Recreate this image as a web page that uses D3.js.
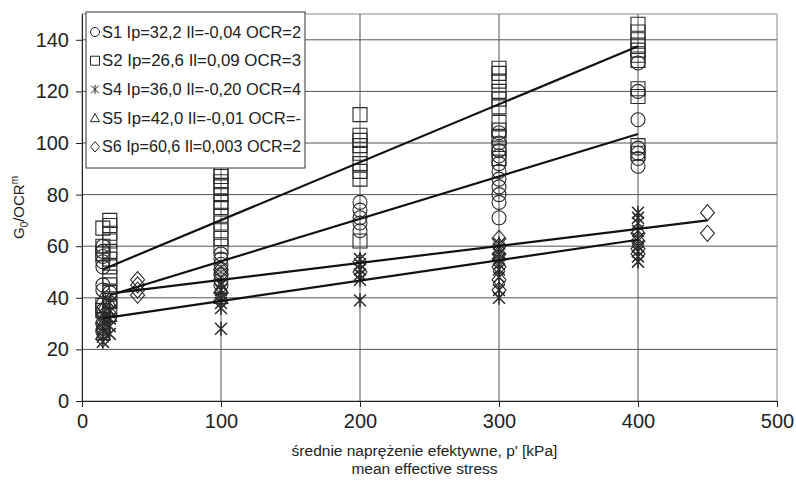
<!DOCTYPE html>
<html>
<head>
<meta charset="utf-8">
<script src="https://cdn.jsdelivr.net/npm/d3@7"></script>
<style>
  body { margin: 0; background: #fff; }
  text { font-family: "Liberation Sans", Arial, sans-serif; fill: #222; }
</style>
</head>
<body>
<script>
const xTicks = [0, 100, 200, 300, 400, 500]
const yTicks = [0, 20, 40, 60, 80, 100, 120, 140]

const legendLabels = [
  'S1 Ip=32,2 Il=-0,04 OCR=2',
  'S2 Ip=26,6 Il=0,09 OCR=3',
  'S4 Ip=36,0 Il=-0,20 OCR=4',
  'S5 Ip=42,0 Il=-0,01 OCR=-',
  'S6 Ip=60,6 Il=0,003 OCR=2'
]
const shapes = ['circle', 'square', 'star', 'triangle', 'diamond']

// [p', G0/OCR^m] pairs per series
const s1 = [
  [15,60],[15,58],[15,56],[15,54],[15,52],[15,45],[15,43],[15,35],[15,30],[15,27],
  [20,42],[20,38],[20,33],
  [100,57],[100,55],[100,53],[100,51],[100,49],[100,47],[100,45],
  [200,77],[200,74],[200,71],[200,69],[200,66],
  [300,104],[300,100],[300,97],[300,95],[300,92],[300,89],[300,86],[300,83],[300,80],[300,77],[300,71],
  [400,131],[400,120],[400,109],[400,98],[400,96],[400,94],[400,91]
]
const s2 = [
  [15,67],[15,60],[15,57],[15,37],[15,35],
  [20,70],[20,68],[20,65],[20,62],[20,58],[20,55],[20,52],[20,48],[20,45],[20,42],[20,39],[20,36],
  [100,89],[100,87],[100,85],[100,83],[100,80],[100,77],[100,75],[100,72],[100,69],[100,66],[100,63],[100,60],
  [200,111],[200,103],[200,101],[200,99],[200,96],[200,92],[200,89],[200,86],[200,62],
  [300,129],[300,127],[300,124],[300,120],[300,117],[300,114],[300,108],[300,105],[300,102],[300,98],[300,94],
  [400,146],[400,143],[400,140],[400,138],[400,136],[400,134],[400,132],[400,121],[400,118],[400,99],[400,96]
]
const s4 = [
  [15,34],[15,31],[15,28],[15,25],[15,23],
  [20,38],[20,35],[20,32],[20,29],[20,26],
  [100,45],[100,43],[100,40],[100,38],[100,36],[100,28],
  [200,55],[200,53],[200,51],[200,49],[200,47],[200,39],
  [300,61],[300,59],[300,57],[300,55],[300,53],[300,51],[300,48],[300,43],[300,40],
  [400,73],[400,71],[400,69],[400,66],[400,63],[400,60],[400,58],[400,56],[400,54]
]
const s5 = [
  [15,40],[15,36],[15,30],[15,26],
  [20,38],[20,33],
  [100,44],[100,40]
]
const s6 = [
  [15,33],[15,30],[15,27],[15,24],
  [40,47],[40,45],[40,43],[40,41],
  [100,51],[100,49],[100,42],[100,39],
  [200,54],[200,50],
  [300,63],[300,60],[300,57],[300,55],[300,52],[300,47],[300,43],
  [400,65],[400,62],[400,59],[400,57],
  [450,73],[450,65]
]
const seriesData = [s1, s2, s4, s5, s6]

// fitted trend lines: [x0, y0, x1, y1]
const fits = [
  [15, 51, 400, 137.5],
  [20, 41, 400, 103.5],
  [25, 42, 450, 70],
  [15, 32, 400, 62.5]
]

const W = 796, H = 481
const margin = {top: 14, right: 19, bottom: 80, left: 82}
const width = W - margin.left - margin.right
const height = H - margin.top - margin.bottom

const x = d3.scaleLinear().domain([0, 500]).range([0, width])
const y = d3.scaleLinear().domain([0, 150]).range([height, 0])

const svg = d3.select('body').append('svg')
  .attr('width', W).attr('height', H)

const main = svg.append('g')
  .attr('transform', 'translate(' + margin.left + ',' + margin.top + ')')

// plot frame + grid
main.append('rect')
  .attr('width', width).attr('height', height)
  .attr('fill', 'none').attr('stroke', '#888')

main.append('g').selectAll('line')
  .data(yTicks.filter(d => d > 0))
  .enter().append('line')
  .attr('x1', 0).attr('x2', width)
  .attr('y1', d => y(d)).attr('y2', d => y(d))
  .attr('stroke', '#555').attr('stroke-width', 1)

main.append('g').selectAll('line')
  .data(xTicks.filter(d => d > 0 && d < 500))
  .enter().append('line')
  .attr('x1', d => x(d)).attr('x2', d => x(d))
  .attr('y1', 0).attr('y2', height)
  .attr('stroke', '#555').attr('stroke-width', 1)

// axes
const xAxis = main.append('g')
  .attr('transform', 'translate(0,' + height + ')')
  .call(d3.axisBottom(x).tickValues(xTicks).tickSize(6).tickPadding(7).tickSizeOuter(0))
const yAxis = main.append('g')
  .call(d3.axisLeft(y).tickValues(yTicks).tickSize(6).tickPadding(7).tickSizeOuter(0))

;[xAxis, yAxis].forEach(a => {
  a.select('.domain').attr('stroke', '#222')
  a.selectAll('line').attr('stroke', '#222')
  a.selectAll('text').attr('font-size', 20).attr('fill', '#222')
    .attr('font-family', '"Liberation Sans", Arial, sans-serif')
})

// marker shapes
function shapePath(kind, s) {
  const h = s / 2
  if (kind === 'circle') return d3.symbol(d3.symbolCircle, Math.PI * h * h)()
  if (kind === 'square') return 'M' + (-h) + ',' + (-h) + 'h' + s + 'v' + s + 'h' + (-s) + 'Z'
  if (kind === 'diamond') return 'M0,' + (-h * 1.15) + 'L' + h + ',0L0,' + (h * 1.15) + 'L' + (-h) + ',0Z'
  if (kind === 'triangle') return 'M0,' + (-h) + 'L' + h + ',' + (h * 0.8) + 'L' + (-h) + ',' + (h * 0.8) + 'Z'
  // asterisk: vertical bar plus an X
  const d = h * 0.85
  return 'M0,' + (-h) + 'V' + h +
    'M' + (-d) + ',' + (-d) + 'L' + d + ',' + d +
    'M' + d + ',' + (-d) + 'L' + (-d) + ',' + d
}

const g = main.append('g')
seriesData.forEach((pts, i) => {
  g.selectAll('.s' + i)
    .data(pts)
    .enter().append('path')
    .attr('class', 's' + i)
    .attr('d', shapePath(shapes[i], 14))
    .attr('transform', d => 'translate(' + x(d[0]) + ',' + y(d[1]) + ')')
    .attr('fill', 'none')
    .attr('stroke', '#2a2a2a')
    .attr('stroke-width', shapes[i] === 'star' ? 1.5 : 1.1)
})

// trend lines
main.append('g').selectAll('line')
  .data(fits)
  .enter().append('line')
  .attr('x1', d => x(d[0])).attr('y1', d => y(d[1]))
  .attr('x2', d => x(d[2])).attr('y2', d => y(d[3]))
  .attr('stroke', '#111').attr('stroke-width', 2.2)

// legend
const legend = svg.append('g').attr('transform', 'translate(86,12)')
legend.append('rect')
  .attr('width', 219).attr('height', 156)
  .attr('fill', '#fff').attr('stroke', '#333')
legendLabels.forEach((t, i) => {
  const row = legend.append('g').attr('transform', 'translate(0,' + (20 + i * 28.7) + ')')
  row.append('path')
    .attr('d', shapePath(shapes[i], 9))
    .attr('transform', 'translate(9,0)')
    .attr('fill', 'none').attr('stroke', '#222').attr('stroke-width', 1)
  row.append('text')
    .attr('x', 16).attr('dy', '0.35em')
    .attr('font-size', 16)
    .attr('textLength', 199)
    .attr('lengthAdjust', 'spacingAndGlyphs')
    .text(t)
})

// axis titles
svg.append('text')
  .attr('x', margin.left + width / 2 - 5).attr('y', 456)
  .attr('text-anchor', 'middle').attr('font-size', 15.5)
  .text("średnie naprężenie efektywne, p' [kPa]")
svg.append('text')
  .attr('x', margin.left + width / 2 - 5).attr('y', 474)
  .attr('text-anchor', 'middle').attr('font-size', 15.5)
  .text('mean effective stress')

const yt = svg.append('text')
  .attr('transform', 'translate(24,' + (margin.top + height / 2) + ') rotate(-90)')
  .attr('text-anchor', 'middle').attr('font-size', 15)
yt.append('tspan').text('G')
yt.append('tspan').attr('font-size', 10).attr('dy', 4).text('0')
yt.append('tspan').attr('dy', -4).text('/OCR')
yt.append('tspan').attr('font-size', 10).attr('dy', -6).text('m')
</script>
</body>
</html>
